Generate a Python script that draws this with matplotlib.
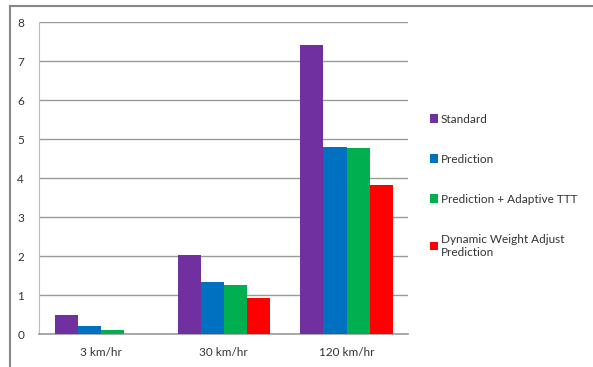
import matplotlib.pyplot as plt
from matplotlib.lines import Line2D
import numpy as np

speeds = ["3 km/hr", "30 km/hr", "120 km/hr"]
standard = [0.5, 2.02, 7.4]
prediction = [0.21, 1.34, 4.8]
adaptive = [0.11, 1.27, 4.77]
dynamic = [0.0, 0.92, 3.83]

names = ["Standard", "Prediction", "Prediction + Adaptive TTT",
         "Dynamic Weight Adjust\nPrediction"]
colors = ["#7030A0", "#0070C0", "#00B050", "#FF0000"]

plt.rcParams['font.family'] = ['Lato', 'DejaVu Sans']

fig = plt.figure(figsize=(5.93, 3.67), dpi=100)
ax = fig.add_axes([0.0663, 0.089, 0.6217, 0.851])

x = np.arange(len(speeds))
w = 0.1875
series = [standard, prediction, adaptive, dynamic]
for i, (vals, c, n) in enumerate(zip(series, colors, names)):
    ax.bar(x - 1.5 * w + i * w, vals, w, color=c, label=n, zorder=3)

ax.set_xlim(-0.5, 2.5)
ax.set_ylim(0, 8)
ax.set_yticks(range(0, 9))
ax.set_xticks(x)
ax.set_xticklabels(speeds, fontsize=8.5, color="#333333")
ax.tick_params(axis="y", labelsize=8.5, colors="#333333", length=0, pad=11)
ax.tick_params(axis="x", length=0, pad=9)
ax.grid(axis="y", color="#999999", linewidth=1, zorder=0)
for s in ["top", "right"]:
    ax.spines[s].set_visible(False)
ax.spines["left"].set_color("#BBBBBB")
ax.spines["bottom"].set_color("#999999")
ax.spines["bottom"].set_linewidth(1.2)

leg = ax.legend(loc="center left", bbox_to_anchor=(1.03, 0.475), frameon=False,
                fontsize=8.5, handlelength=0.7, handleheight=0.7, handletextpad=0.25,
                labelspacing=2.45, labelcolor="#333333")
for t in leg.get_texts():
    t.set_linespacing(1.3)

# outer frame (top and left edges only)
fig.add_artist(Line2D([10 / 593, 1], [1 - 6 / 367, 1 - 6 / 367],
                      transform=fig.transFigure, color="#888888", lw=1.5))
fig.add_artist(Line2D([10 / 593, 10 / 593], [0, 1 - 6 / 367],
                      transform=fig.transFigure, color="#888888", lw=1.5))

fig.savefig("out.png")
